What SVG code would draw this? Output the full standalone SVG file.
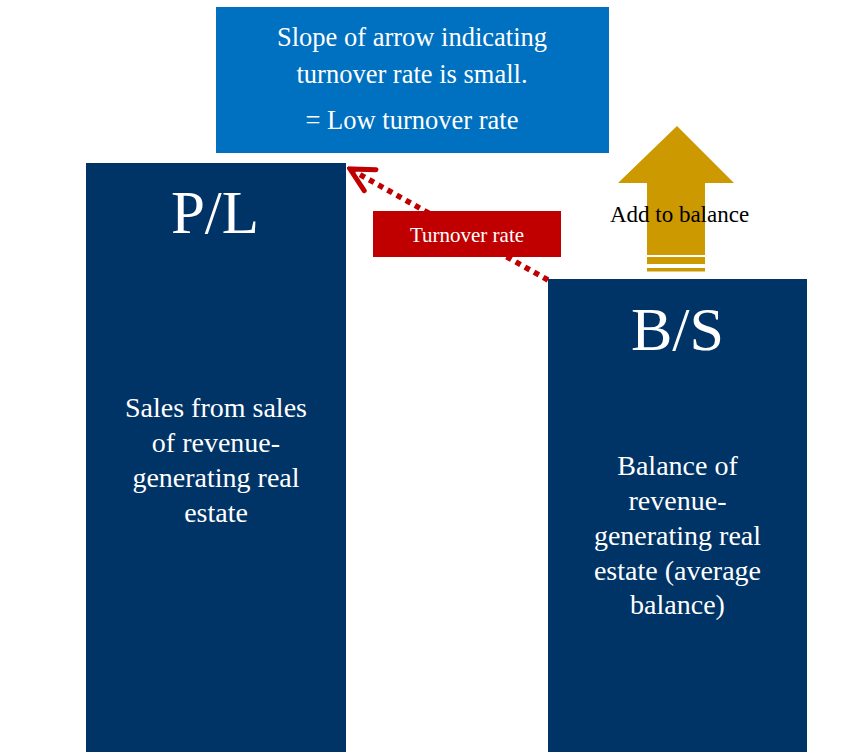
<svg xmlns="http://www.w3.org/2000/svg" width="865" height="752" viewBox="0 0 865 752">
<style>
.t{font-family:"Liberation Serif","Times New Roman",serif;text-anchor:middle}
.w{fill:#ffffff}
.navy{fill:#003366}
</style>
<defs>
<marker id="chev" markerUnits="userSpaceOnUse" markerWidth="40" markerHeight="40" refX="37" refY="20" orient="auto" viewBox="0 0 40 40">
<polyline points="14,8 37,20 14,32" fill="none" stroke="#C00000" stroke-width="5" stroke-linecap="round" stroke-linejoin="miter"/>
</marker>
</defs>
<rect width="865" height="752" fill="#ffffff"/>
<g id="note">
<rect x="216" y="7" width="393" height="146" fill="#0070C0"/>
<text class="t w" x="412" y="46" font-size="26.5">Slope of arrow indicating</text>
<text class="t w" x="412" y="83" font-size="26.5">turnover rate is small.</text>
<text class="t w" x="412" y="129" font-size="26.5">= Low turnover rate</text>
</g>
<g id="pl">
<rect class="navy" x="86" y="163" width="260" height="589"/>
<text class="t w" x="215" y="233" font-size="61">P/L</text>
<text class="t w" x="216" y="417" font-size="28">Sales from sales</text>
<text class="t w" x="216" y="452" font-size="28">of revenue-</text>
<text class="t w" x="216" y="487" font-size="28">generating real</text>
<text class="t w" x="216" y="522" font-size="28">estate</text>
</g>
<g id="add-arrow">
<polygon points="677,126 734,183 705,183 705,255 647,255 647,183 618,183" fill="#CC9900"/>
<rect x="647" y="257" width="58" height="7" fill="#CC9900"/>
<rect x="647" y="268" width="58" height="3.5" fill="#CC9900"/>
<text class="t" x="679.5" y="222" font-size="23" fill="#000000">Add to balance</text>
</g>
<g id="bs">
<rect class="navy" x="548" y="279" width="259" height="473"/>
<text class="t w" x="677.5" y="350" font-size="62">B/S</text>
<text class="t w" x="677.5" y="475" font-size="28">Balance of</text>
<text class="t w" x="677.5" y="510" font-size="28">revenue-</text>
<text class="t w" x="677.5" y="545" font-size="28">generating real</text>
<text class="t w" x="677.5" y="580" font-size="28">estate (average</text>
<text class="t w" x="677.5" y="614" font-size="28">balance)</text>
</g>
<g id="connectors">
<line x1="548" y1="280" x2="350" y2="169" stroke="#C00000" stroke-width="5.5" stroke-dasharray="5.5 5" marker-end="url(#chev)"/>
</g>
<g id="turnover-label">
<rect x="373" y="211" width="188" height="46" fill="#C00000"/>
<text class="t w" x="467" y="242" font-size="21">Turnover rate</text>
</g>
</svg>
